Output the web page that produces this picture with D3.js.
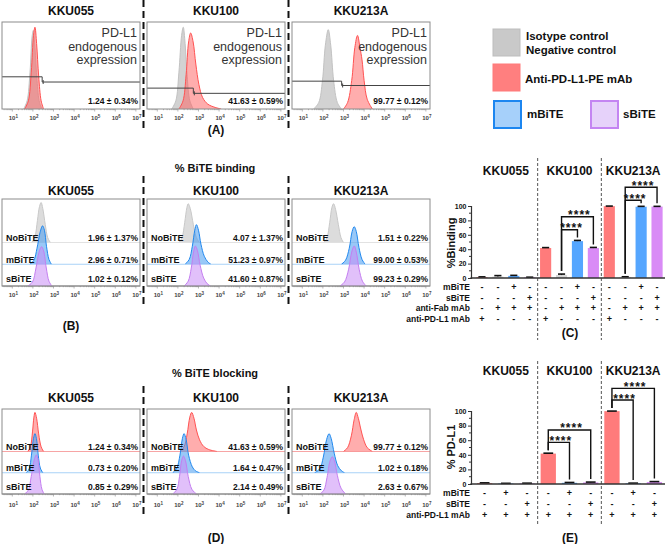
<!DOCTYPE html>
<html><head><meta charset="utf-8">
<script src="https://cdn.jsdelivr.net/npm/d3@7"></script>
<style>body{margin:0;background:#fff} svg{font-family:"Liberation Sans",Arial,sans-serif}</style>
</head><body><svg id="c" width="668" height="544"></svg>
<script>
// ---------------- DATA ----------------
const cellLines = ["KKU055","KKU100","KKU213A"];
const decadeTicks = [1,2,3,4,5,6,7];
const rowLabels = ["NoBiTE","mBiTE","sBiTE"];

// Panel A: histograms [log10 fluorescence, relative count]
const aIsotype = [
 [[1.55,0],[1.72,10],[1.86,45],[1.96,88],[2.02,96],[2.1,75],[2.2,35],[2.32,8],[2.45,0]],
 [[1.7,0],[1.9,10],[2.05,45],[2.18,90],[2.26,100],[2.35,80],[2.45,40],[2.58,10],[2.75,0]],
 [[1.55,0],[1.8,8],[1.98,35],[2.12,78],[2.26,97],[2.38,78],[2.52,35],[2.7,8],[2.9,0]]
];
const aAntiPDL1 = [
 [[1.6,0],[1.78,10],[1.92,45],[2.03,90],[2.1,100],[2.18,80],[2.28,40],[2.4,10],[2.52,0]],
 [[2.05,0],[2.25,10],[2.4,42],[2.52,82],[2.62,93],[2.74,82],[2.87,55],[3.02,30],[3.2,14],[3.45,6],[3.8,2],[4.1,0]],
 [[3.0,0],[3.2,8],[3.4,35],[3.55,75],[3.68,90],[3.8,75],[3.9,60],[4.0,35],[4.15,12],[4.4,0]]
];
const aGates = [2.45, 2.75, 2.91];
const aStats = ["1.24 ± 0.34%","41.63 ± 0.59%","99.77 ± 0.12%"];

// Panel B
const bNoBiTE = [
 [[1.95,0],[2.1,15],[2.22,55],[2.32,90],[2.4,100],[2.48,85],[2.6,45],[2.72,12],[2.85,0]],
 [[2.05,0],[2.2,12],[2.33,50],[2.44,88],[2.5,97],[2.6,85],[2.75,45],[2.9,12],[3.05,0]],
 [[2.05,0],[2.2,12],[2.33,50],[2.44,88],[2.52,97],[2.62,82],[2.75,45],[2.88,12],[3.0,0]]
];
const bMBiTE = [
 [[1.85,0],[2.05,10],[2.2,40],[2.35,80],[2.47,96],[2.56,85],[2.66,45],[2.78,12],[2.9,0]],
 [[2.35,0],[2.55,12],[2.7,45],[2.82,85],[2.9,99],[3.0,85],[3.12,50],[3.28,20],[3.45,6],[3.6,0]],
 [[2.9,0],[3.1,10],[3.28,40],[3.42,82],[3.52,94],[3.62,82],[3.75,42],[3.9,12],[4.05,0]]
];
const bSBiTE = [
 [[1.75,0],[1.98,10],[2.15,45],[2.3,85],[2.42,98],[2.52,88],[2.65,45],[2.78,12],[2.92,0]],
 [[2.3,0],[2.5,12],[2.65,45],[2.76,85],[2.85,100],[2.95,88],[3.08,52],[3.25,20],[3.42,6],[3.58,0]],
 [[2.82,0],[3.05,10],[3.25,42],[3.4,85],[3.52,100],[3.62,85],[3.76,42],[3.92,12],[4.1,0]]
];
const bStats = [
 ["1.96 ± 1.37%","2.96 ± 0.71%","1.02 ± 0.12%"],
 ["4.07 ± 1.37%","51.23 ± 0.97%","41.60 ± 0.87%"],
 ["1.51 ± 0.22%","99.00 ± 0.53%","99.23 ± 0.29%"]
];

// Panel D
const dNoBiTE = [
 [[1.75,0],[1.88,12],[1.98,50],[2.05,88],[2.1,100],[2.18,85],[2.28,45],[2.4,12],[2.52,0]],
 [[2.1,0],[2.3,12],[2.45,45],[2.58,88],[2.67,100],[2.78,85],[2.9,55],[3.05,30],[3.25,13],[3.5,5],[3.9,0]],
 [[3.0,0],[3.2,10],[3.38,40],[3.52,82],[3.62,100],[3.72,85],[3.85,55],[3.98,30],[4.15,10],[4.4,0]]
];
const dMBiTE = [
 [[1.68,0],[1.82,10],[1.93,45],[2.03,88],[2.1,100],[2.17,88],[2.26,45],[2.36,12],[2.48,0]],
 [[1.75,0],[1.95,12],[2.1,45],[2.22,88],[2.3,100],[2.4,85],[2.52,45],[2.7,15],[2.85,5],[3.05,0]],
 [[1.6,0],[1.85,10],[2.02,40],[2.18,85],[2.3,100],[2.4,88],[2.55,50],[2.72,18],[2.9,5],[3.05,0]]
];
const dSBiTE = [
 [[1.6,0],[1.78,10],[1.92,45],[2.08,90],[2.17,100],[2.25,88],[2.34,45],[2.44,12],[2.55,0]],
 [[1.75,0],[1.95,12],[2.08,45],[2.18,85],[2.27,97],[2.37,85],[2.5,45],[2.68,12],[2.9,0]],
 [[1.85,0],[2.05,10],[2.2,42],[2.35,85],[2.46,95],[2.56,85],[2.7,48],[2.88,15],[3.1,0]]
];
const dStats = [
 ["1.24 ± 0.34%","0.73 ± 0.20%","0.85 ± 0.29%"],
 ["41.63 ± 0.59%","1.64 ± 0.47%","2.14 ± 0.49%"],
 ["99.77 ± 0.12%","1.02 ± 0.18%","2.63 ± 0.67%"]
];

// Panel C: % binding bars
const cGroups = ["pdl1","neg","m","s","pdl1","neg","m","s","pdl1","neg","m","s"];
const cValues = [1.24,1.96,2.96,1.02, 41.63,4.07,51.23,41.60, 99.77,1.51,99.00,99.23];
const cErrors = [0.34,1.37,0.71,0.12, 0.59,1.37,0.97,0.87, 0.12,0.22,0.53,0.29];
const cMBiTE    = ["-","-","+","-","-","-","+","-","-","-","+","-"];
const cSBiTE    = ["-","-","-","+","-","-","-","+","-","-","-","+"];
const cAntiFab  = ["-","+","+","+","-","+","+","+","-","+","+","+"];
const cAntiPDL1 = ["+","-","-","-","+","-","-","-","+","-","-","-"];
const cBrackets = [{from:5,to:6,level:67,label:"****"},{from:5,to:7,level:85,label:"****"},
                   {from:9,to:10,level:108,label:"****"},{from:9,to:11,level:126,label:"****"}];

// Panel E: % PD-L1 bars
const eGroups = ["pdl1","m","s","pdl1","m","s","pdl1","m","s"];
const eValues = [1.24,0.73,0.85, 41.63,1.64,2.14, 99.77,1.02,2.63];
const eErrors = [0.34,0.20,0.29, 0.59,0.47,0.49, 0.12,0.18,0.67];
const eMBiTE    = ["-","+","-","-","+","-","-","+","-"];
const eSBiTE    = ["-","-","+","-","-","+","-","-","+"];
const eAntiPDL1 = ["+","+","+","+","+","+","+","+","+"];
const eBrackets = [{from:3,to:4,level:57,label:"****"},{from:3,to:5,level:74,label:"****"},
                   {from:6,to:7,level:115,label:"****"},{from:6,to:8,level:131,label:"****"}];
const yTicks = [0,20,40,60,80,100];

const legendItems = [["Isotype control","Negative control"],["Anti-PD-L1-PE mAb"],["mBiTE"],["sBiTE"]];

// ---------------- STYLE ----------------
const HIST = {
  iso:{fill:"#d2d2d2", stroke:"#c2c2c2"},
  red:{fill:"rgba(255,92,92,0.5)", stroke:"#ff5252"},
  blue:{fill:"rgba(70,155,240,0.55)", stroke:"#2188ee"},
  purple:{fill:"rgba(200,140,245,0.55)", stroke:"#c47ff0"},
  grey:{fill:"#dcdcdc", stroke:"#c8c8c8"}
};
const BAR = {pdl1:"#ff7b7b", neg:"#d6d6d6", m:"#55a6ff", s:"#d98bf6"};

const svg = d3.select("#c");
svg.append("rect").attr("width",668).attr("height",544).attr("fill","#fff");
const defs = svg.append("defs");

const boxX = [2,147,292], boxW = 138;
const xLogFor = x0 => d3.scaleLog().domain([Math.pow(10,0.5), Math.pow(10,7.2)]).range([x0, x0+boxW]);

function txt(x,y,s,size,opts={}) {
  return svg.append("text").attr("x",x).attr("y",y).text(s)
    .attr("font-size",size).attr("font-weight",opts.weight||"bold")
    .attr("text-anchor",opts.anchor||"middle").attr("fill",opts.fill||"#111");
}
function vdash(x,y1,y2,thick) {
  svg.append("line").attr("x1",x).attr("x2",x).attr("y1",y1).attr("y2",y2)
    .attr("stroke", thick ? "#111" : "#555").attr("stroke-width", thick?2:1)
    .attr("stroke-dasharray", thick ? "7,4" : "3,2");
}
let clipN = 0;
function hist(x, baseY, scaleH, pts, st) {
  const yf = v => baseY - v/100*scaleH;
  const id = "cl"+(clipN++);
  defs.append("clipPath").attr("id",id).append("rect").attr("x",0).attr("y",0).attr("width",668).attr("height",baseY);
  const cv = d3.curveCatmullRom.alpha(0.5);
  const area = d3.area().x(d=>x(Math.pow(10,d[0]))).y0(baseY).y1(d=>yf(d[1])).curve(cv);
  const line = d3.line().x(d=>x(Math.pow(10,d[0]))).y(d=>yf(d[1])).curve(cv);
  const g = svg.append("g").attr("clip-path",`url(#${id})`);
  g.append("path").attr("d",area(pts)).attr("fill",st.fill);
  g.append("path").attr("d",line(pts)).attr("fill","none").attr("stroke",st.stroke).attr("stroke-width",1);
}
function tickLabels(x, top, h, yBase) {
  decadeTicks.forEach(k => {
    const t = svg.append("text").attr("x", x(Math.pow(10,k))+1).attr("y", yBase)
      .attr("text-anchor","middle").attr("font-size",6).attr("font-weight","bold").attr("fill","#444");
    t.append("tspan").text("10");
    t.append("tspan").attr("dy",-2.5).attr("font-size",4.5).text(k);
  });
  for (let k=0;k<=7;k++) for (let m=1;m<10;m++) {
    const v = Math.pow(10,k)*m, lv = Math.log10(v);
    if (lv < 0.5 || lv > 7.2) continue;
    svg.append("line").attr("x1",x(v)).attr("x2",x(v)).attr("y1",top+h).attr("y2",top+h+(m===1?2.5:1.2))
      .attr("stroke","#888").attr("stroke-width",0.6);
  }
}
function box(x0, top, h) {
  svg.append("rect").attr("x",x0).attr("y",top).attr("width",boxW).attr("height",h)
    .attr("fill","none").attr("stroke","#8c8c8c").attr("stroke-width",1);
}

// ---------------- PANEL A ----------------
{
  const top=22, h=87;
  const gateLv = [[0.63,0.69],[0.76,0.82],[0.68,0.73]];
  cellLines.forEach((c,i)=>{
    const x0=boxX[i], x=xLogFor(x0);
    txt(x0+boxW/2, 15, c, 12);
    hist(x, top+h, 0.94*h, aIsotype[i], HIST.iso);
    hist(x, top+h, 0.94*h, aAntiPDL1[i], HIST.red);
    const gx = x(Math.pow(10,aGates[i]));
    const y1 = top+gateLv[i][0]*h, y2 = top+gateLv[i][1]*h;
    svg.append("path").attr("d",`M${x0},${y1}H${gx}V${y2}H${x0+boxW}`).attr("fill","none").attr("stroke","#444").attr("stroke-width",1);
    svg.append("line").attr("x1",gx+1).attr("x2",gx+1).attr("y1",y2-2).attr("y2",y2+2).attr("stroke","#444");
    ["PD-L1","endogenous","expression"].forEach((s,k)=>
      txt(x0+boxW-3, 37+k*13.5, s, 12.5, {anchor:"end", weight:"normal", fill:"#333"}));
    txt(x0+boxW-2, 104, aStats[i], 8.5, {anchor:"end"});
    box(x0, top, h);
    tickLabels(x, top, h, 120);
  });
  vdash(143.5, 0, 128, true); vdash(288.5, 0, 128, true);
  txt(216, 134, "(A)", 12);
}

// ---------------- PANELS B & D ----------------
function stackedPanel(top, h, titleY, tickY, sets, styles, baseColors, stats) {
  cellLines.forEach((c,i)=>{
    const x0=boxX[i], x=xLogFor(x0);
    txt(x0+boxW/2, titleY, c, 12);
    const bases = [top+0.5*h, top+0.75*h, top+h];
    bases.forEach((b,r)=>{
      svg.append("line").attr("x1",x0).attr("x2",x0+boxW).attr("y1",b).attr("y2",b)
        .attr("stroke",baseColors[r]).attr("stroke-width",1);
      hist(x, b, 0.46*h, sets[r][i], styles[r]);
    });
    const ly = [0.48,0.73,0.955];
    rowLabels.forEach((l,r)=>{
      txt(x0+4, top+ly[r]*h, l, 9, {anchor:"start"});
      txt(x0+boxW-2, top+ly[r]*h, stats[i][r], 8.5, {anchor:"end"});
    });
    box(x0, top, h);
    tickLabels(x, top, h, tickY);
  });
}
txt(215, 172, "% BiTE binding", 11);
stackedPanel(199, 87, 195, 297, [bNoBiTE,bMBiTE,bSBiTE], [HIST.grey,HIST.blue,HIST.purple], ["#e2e2e2","#a9d2f7","#8c8c8c"], bStats);
vdash(143.5, 176, 306, true); vdash(288.5, 176, 306, true);
txt(71, 330, "(B)", 12);

txt(215, 377, "% BiTE blocking", 11);
stackedPanel(409, 85, 402, 507, [dNoBiTE,dMBiTE,dSBiTE], [HIST.red,HIST.blue,HIST.purple], ["#f7a5a5","#a9d2f7","#8c8c8c"], dStats);
vdash(143.5, 386, 517, true); vdash(288.5, 386, 517, true);
txt(216, 542, "(D)", 12);

// ---------------- LEGEND ----------------
{
  const sq = (x,y,fill,stroke,sw) => svg.append("rect").attr("x",x).attr("y",y).attr("width",27).attr("height",27)
    .attr("fill",fill).attr("stroke",stroke).attr("stroke-width",sw);
  sq(493,29,"#c9c9c9","#bdbdbd",1);
  sq(493,64,"#ff7f7f","#ff7a7a",1);
  sq(494,101,"#a6d0fa","#1c86f0",2);
  sq(591,101,"#e6d2fa","#c485f2",2);
  txt(526,39.5,legendItems[0][0],11.5,{anchor:"start"});
  txt(526,54,legendItems[0][1],11.5,{anchor:"start"});
  txt(525,82.5,legendItems[1][0],11.5,{anchor:"start"});
  txt(527,118,legendItems[2][0],11.5,{anchor:"start"});
  txt(623,118,legendItems[3][0],11.5,{anchor:"start"});
}

// ---------------- BAR PANELS ----------------
function barPanel(cfg) {
  const n = cfg.values.length;
  const x = d3.scaleBand().domain(d3.range(n)).range([474,665]).paddingInner(cfg.pin).paddingOuter(cfg.pout);
  const y = d3.scaleLinear().domain([0,100]).range([cfg.y0, cfg.y100]);
  const cx = i => x(i)+x.bandwidth()/2;
  const per = n/3;
  [1,2].forEach(k=> vdash((cx(k*per-1)+cx(k*per))/2, cfg.sepTop, cfg.sepBottom, false));
  cellLines.forEach((c,k)=> txt((cx(k*per)+cx(k*per+per-1))/2, cfg.headY, c, 12));
  cfg.values.forEach((v,i)=>{
    svg.append("rect").attr("x",x(i)).attr("width",x.bandwidth()).attr("y",y(v)).attr("height",y(0)-y(v))
      .attr("fill",BAR[cfg.groups[i]]);
    const e = cfg.errors[i];
    svg.append("line").attr("x1",cx(i)).attr("x2",cx(i)).attr("y1",y(v)).attr("y2",y(v+e)).attr("stroke","#111").attr("stroke-width",1);
    svg.append("line").attr("x1",cx(i)-x.bandwidth()*0.32).attr("x2",cx(i)+x.bandwidth()*0.32)
      .attr("y1",y(v+e)).attr("y2",y(v+e)).attr("stroke","#111").attr("stroke-width",1.6);
  });
  const ax = svg.append("g").attr("transform",`translate(471,0)`)
    .call(d3.axisLeft(y).tickValues(yTicks).tickSize(3).tickPadding(1.5));
  ax.select(".domain").attr("stroke","#333").attr("stroke-width",1.2);
  ax.selectAll(".tick line").attr("stroke","#333");
  ax.selectAll("text").attr("font-size",7).attr("font-weight","bold").attr("fill","#111")
    .attr("font-family","'Liberation Sans', Arial, sans-serif");
  [10,30,50,70,90].forEach(v=> svg.append("line").attr("x1",469).attr("x2",471).attr("y1",y(v)).attr("y2",y(v)).attr("stroke","#333"));
  svg.append("line").attr("x1",470.4).attr("x2",665).attr("y1",y(0)).attr("y2",y(0)).attr("stroke","#333").attr("stroke-width",1.3);
  svg.append("text").attr("transform",`translate(${cfg.labX},${cfg.labY}) rotate(-90)`).attr("text-anchor","middle")
    .attr("font-size",11).attr("font-weight","bold").attr("fill","#111").text(cfg.ylabel);
  cfg.rows.forEach((row,r)=>{
    const yy = cfg.rowY[r];
    txt(470, yy, row[0], 8.5, {anchor:"end"});
    row[1].forEach((s,i)=> txt(cx(i), yy, s, 9));
  });
  cfg.brackets.forEach(b=>{
    const yt = y(b.level);
    const l1 = y(cfg.values[b.from]+cfg.errors[b.from])-3;
    const l2 = y(cfg.values[b.to]+cfg.errors[b.to])-3;
    svg.append("path").attr("d",`M${cx(b.from)},${l1}V${yt}H${cx(b.to)}V${l2}`)
      .attr("fill","none").attr("stroke","#111").attr("stroke-width",1.4);
    txt((cx(b.from)+cx(b.to))/2+2, yt+2.5, b.label, 12).attr("letter-spacing",1);
  });
  txt(570, cfg.panelY, cfg.panel, 12);
}

barPanel({values:cValues, errors:cErrors, groups:cGroups, pin:0.3, pout:0.15,
  y0:278, y100:206, sepTop:158, sepBottom:340, headY:175, labX:455, labY:243, ylabel:"%Binding",
  rows:[["mBiTE",cMBiTE],["sBiTE",cSBiTE],["anti-Fab mAb",cAntiFab],["anti-PD-L1 mAb",cAntiPDL1]],
  rowY:[290,300.5,311,322], brackets:cBrackets, panel:"(C)", panelY:337});

barPanel({values:eValues, errors:eErrors, groups:eGroups, pin:0.28, pout:0.14,
  y0:484, y100:411, sepTop:361, sepBottom:525, headY:375, labX:455, labY:447, ylabel:"% PD-L1",
  rows:[["mBiTE",eMBiTE],["sBiTE",eSBiTE],["anti-PD-L1 mAb",eAntiPDL1]],
  rowY:[496,507,518], brackets:eBrackets, panel:"(E)", panelY:542});
</script></body></html>
